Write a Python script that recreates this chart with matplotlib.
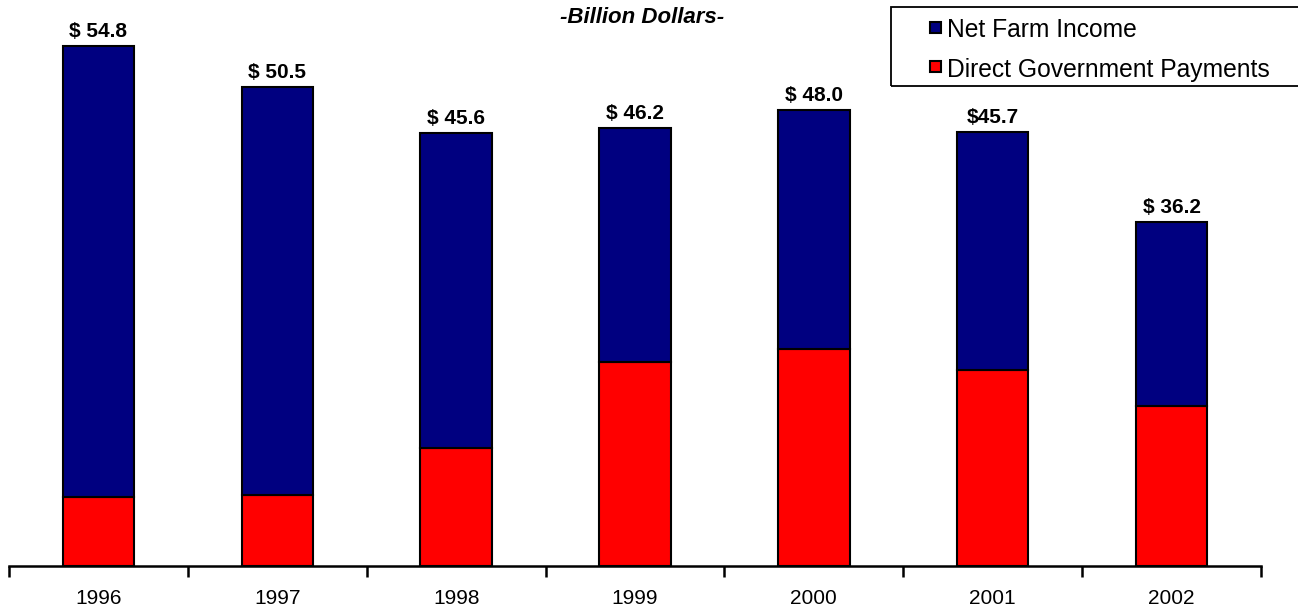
import matplotlib
matplotlib.use("Agg")
import matplotlib.pyplot as plt
from matplotlib.patches import Rectangle
import numpy as np

plt.rcParams['font.family'] = ['Liberation Sans', 'DejaVu Sans']

years = ["1996", "1997", "1998", "1999", "2000", "2001", "2002"]
net_farm_income = [54.8, 50.5, 45.6, 46.2, 48.0, 45.7, 36.2]
gov_payments = [7.3, 7.5, 12.4, 21.5, 22.9, 20.7, 16.9]
value_labels = ["$ 54.8", "$ 50.5", "$ 45.6", "$ 46.2", "$ 48.0", "$45.7", "$ 36.2"]
series_names = ["Net Farm Income", "Direct Government Payments"]

navy = "#000080"
red = "#FF0000"

W, H = 1298, 611
fig = plt.figure(figsize=(W / 100, H / 100), dpi=100)
ax = fig.add_axes([9 / W, 1 - 566 / H, (1261 - 9) / W, 566 / H])

x = np.arange(len(years))
width = 0.40
other_income = [t - g for t, g in zip(net_farm_income, gov_payments)]

ax.bar(x, gov_payments, width, color=red, edgecolor="black", linewidth=1.5, zorder=2)
ax.bar(x, other_income, width, bottom=gov_payments, color=navy, edgecolor="black",
       linewidth=1.5, zorder=2)

for xi, total, lab in zip(x, net_farm_income, value_labels):
    ax.annotate(lab, (xi, total), xytext=(0, 6.5), textcoords="offset points",
                ha="center", va="baseline", fontsize=15, fontweight="bold")

ax.set_xlim(-0.5, len(years) - 0.5)
ax.set_ylim(0, 566 / 9.49)

for s in ["top", "right", "left"]:
    ax.spines[s].set_visible(False)
ax.spines["bottom"].set_linewidth(1.8)
ax.set_yticks([])

ax.set_xticks(np.arange(-0.5, len(years), 1.0))
ax.set_xticklabels([])
ax.set_xticks(x, minor=True)
ax.set_xticklabels(years, minor=True, fontsize=15)
ax.tick_params(axis="x", which="major", direction="out", length=8, width=1.8)
ax.tick_params(axis="x", which="minor", length=0, pad=16.5)

fig.text(642 / W, 1 - 23 / H, "-Billion Dollars-", ha="center", va="baseline",
         fontsize=16, fontweight="bold", fontstyle="italic")

# Legend box running off the right edge of the figure
fig.patches.append(Rectangle((891 / W, 1 - 86 / H), 430 / W, 79 / H,
                             transform=fig.transFigure, fill=False,
                             edgecolor="black", linewidth=1.3))
for name, color, yc, base in zip(series_names, [navy, red], [27, 66.5], [37, 77]):
    fig.patches.append(Rectangle((929.5 / W, 1 - (yc + 5.5) / H), 11 / W, 11 / H,
                                 transform=fig.transFigure, facecolor=color,
                                 edgecolor="black", linewidth=1.5))
    fig.text(947 / W, 1 - base / H, name, ha="left", va="baseline", fontsize=17.7)

fig.savefig("out.png", dpi=100)
